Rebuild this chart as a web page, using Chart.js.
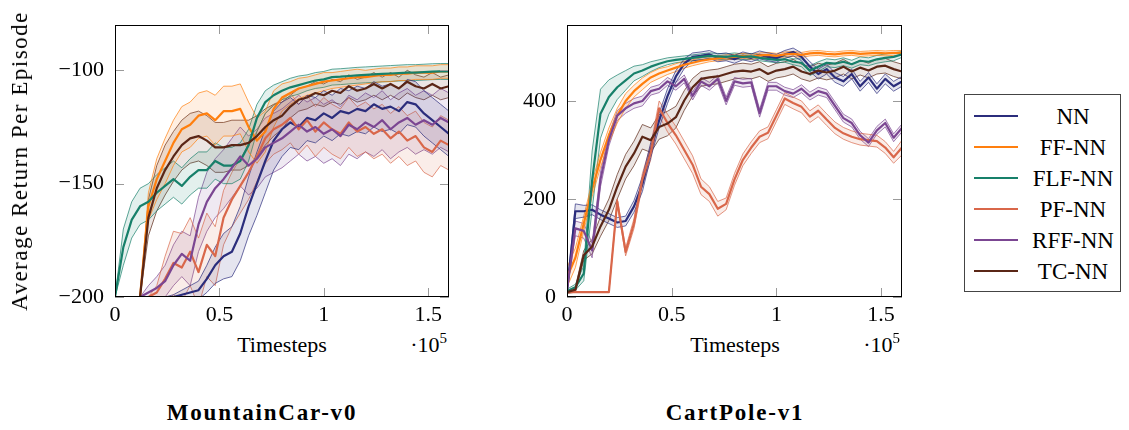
<!DOCTYPE html>
<html>
<head>
<meta charset="utf-8">
<script src="https://cdn.jsdelivr.net/npm/chart.js@4.4.1/dist/chart.umd.min.js"></script>
<style>
    body { margin: 0; background: #fff; width: 1129px; height: 430px; position: relative; overflow: hidden;
           font-family: "Liberation Serif", "Times New Roman", serif; color: #000; }
    canvas { position: absolute; top: 0; }
    .txt { position: absolute; white-space: nowrap; font-size: 22px; line-height: 22px; }
    .title { position: absolute; white-space: nowrap; font-size: 23px; line-height: 23px; font-weight: bold;
             letter-spacing: 1.8px; transform: translateX(-50%); }
    .sup { font-size: 15px; position: relative; top: -9px; }
    #legend { position: absolute; left: 964px; top: 94px; width: 157px; height: 198px; box-sizing: border-box;
              border: 1px solid #444; }
</style>
</head>
<body>
<canvas id="mcChart" width="470" height="330" style="left:0"></canvas>
<canvas id="cpChart" width="460" height="330" style="left:460px"></canvas>

<div class="txt" style="left:20px; top:161px; font-size:23px; letter-spacing:1.5px; transform:translate(-50%,-50%) rotate(-90deg)">Average Return Per Episode</div>
<div class="txt" style="left:282px; top:334px; transform:translateX(-50%)">Timesteps</div>
<div class="txt" style="right:682px; top:334px">·10<span class="sup">5</span></div>
<div class="txt" style="left:735px; top:334px; transform:translateX(-50%)">Timesteps</div>
<div class="txt" style="right:229px; top:334px">·10<span class="sup">5</span></div>
<div class="title" style="left:262px; top:401px">MountainCar-v0</div>
<div class="title" style="left:735px; top:401px">CartPole-v1</div>
<div id="legend"></div>

<script>
// ── Data ─────────────────────────────────────────────────────
const steps = [0, 4000, 8000, 12000, 16000, 20000, 24000, 28000, 32000, 36000,
    40000, 44000, 48000, 52000, 56000, 60000, 64000, 68000, 72000, 76000,
    80000, 84000, 88000, 92000, 96000, 100000, 104000, 108000, 112000, 116000,
    120000, 124000, 128000, 132000, 136000, 140000, 144000, 148000, 152000, 156000, 160000];

const seriesNames = ["NN", "FF-NN", "FLF-NN", "PF-NN", "RFF-NN", "TC-NN"];

const xTickValues = [0, 50000, 100000, 150000];
const mcTickValues = [-200, -150, -100];
const cpTickValues = [0, 200, 400];

// MountainCar-v0: mean return and half-width of the shaded band
const mcNN = [-200, -200, -200, -200, -200, -200, -200, -200, -199, -198,
    -197, -192, -186, -182, -180, -172, -160, -150, -140, -131,
    -126, -123, -125, -121, -122, -119, -121, -118, -119, -117,
    -118, -115, -117, -116, -118, -114, -115, -119, -122, -125, -128];
const mcNNsd = [0, 0, 0, 0, 0, 0, 0, 1, 2, 3,
    4, 6, 8, 10, 11, 12, 13, 14, 14, 13,
    12, 11, 10, 10, 10, 10, 10, 10, 10, 10,
    10, 10, 10, 10, 10, 10, 10, 10, 10, 10, 10];
const mcFF = [-200, -200, -200, -200, -160, -148, -140, -132, -126, -124,
    -120, -119, -122, -118, -118, -117, -125, -131, -127, -117,
    -112, -110, -108, -107, -106, -105, -104.5, -104, -103.5, -103,
    -103, -102.5, -102, -102, -101.5, -101.5, -101, -101, -101, -100.5, -100.5];
const mcFFsd = [0, 0, 0, 0, 6, 9, 10, 10, 10, 10,
    10, 10, 11, 11, 11, 11, 11, 10, 9, 8,
    6, 5, 4.5, 4, 4, 4, 3.5, 3.5, 3.5, 3.5,
    3, 3, 3, 3, 3, 3, 3, 3, 3, 3, 3];
const mcFLF = [-200, -178, -166, -160, -158, -154, -151, -148, -151, -147,
    -144, -144, -140, -142, -142, -140, -133, -121, -114, -111,
    -109, -107.5, -106.5, -105.5, -104.5, -104, -103, -102.8, -102.5, -102.2,
    -102, -101.8, -101.6, -101.4, -101.2, -101, -101, -100.8, -100.6, -100.5, -100.5];
const mcFLFsd = [0, 8, 8, 8, 8, 8, 8, 8, 8, 8,
    8, 8, 8, 8, 8, 8, 7, 6, 5, 4.5,
    4, 4, 4, 3.5, 3.5, 3.5, 3.5, 3.5, 3.5, 3.5,
    3.5, 3.5, 3.5, 3.5, 3.5, 3.5, 3.5, 3.5, 3.5, 3.5, 3.5];
const mcPF = [-200, -200, -200, -200, -200, -198, -192, -185, -187, -180,
    -189, -177, -182, -165, -157, -151, -145, -138, -130, -126,
    -124, -121, -126, -122, -127, -123, -126, -128, -123, -127,
    -125, -128, -126, -130, -127, -131, -129, -134, -136, -131, -133];
const mcPFsd = [0, 0, 0, 0, 0, 3, 10, 14, 15, 15,
    15, 14, 13, 12, 12, 12, 12, 11, 11, 11,
    11, 11, 11, 11, 11, 11, 11, 11, 11, 11,
    11, 11, 11, 11, 11, 11, 11, 11, 11, 11, 11];
const mcRFF = [-200, -200, -200, -200, -198, -196, -193, -186, -181, -184,
    -168, -158, -152, -148, -143, -138, -142, -139, -134, -132,
    -130, -127, -124, -127, -125, -128, -126, -129, -124, -126,
    -123, -125, -122, -126, -123, -121, -124, -122, -124, -121, -123];
const mcRFFsd = [0, 0, 0, 0, 3, 5, 7, 9, 10, 11,
    12, 13, 13, 13, 13, 13, 13, 13, 13, 13,
    13, 13, 13, 13, 13, 13, 13, 13, 13, 13,
    13, 13, 13, 13, 13, 13, 13, 13, 13, 13, 13];
const mcTC = [-200, -200, -200, -200, -165, -152, -144, -138, -133, -130,
    -129, -131, -134, -134, -133, -133, -132, -129, -125, -122,
    -120, -116, -113, -112, -110, -111, -109, -110, -107, -109,
    -108, -106, -108, -106, -108, -105, -107, -108, -106, -108, -107];
const mcTCsd = [0, 0, 0, 0, 8, 10, 11, 11, 11, 11,
    11, 11, 11, 11, 11, 11, 10, 9, 8, 7,
    6, 5, 5, 5, 5, 5, 5, 5, 5, 5,
    5, 5, 5, 5, 5, 5, 5, 5, 5, 5, 5];

// CartPole-v1
const cpNN = [12, 175, 175, 178, 168, 160, 152, 155, 185, 230,
    300, 360, 410, 450, 476, 490, 492, 495, 488, 490,
    485, 492, 488, 494, 490, 487, 495, 500, 490, 470,
    455, 465, 448, 440, 455, 430, 448, 425, 445, 430, 440];
const cpNNsd = [3, 15, 12, 10, 10, 10, 10, 10, 12, 15,
    15, 15, 15, 12, 10, 8, 8, 8, 8, 8,
    8, 8, 8, 8, 8, 8, 8, 8, 8, 10,
    10, 10, 10, 10, 10, 10, 10, 10, 10, 10, 10];
const cpFF = [40, 80, 150, 220, 280, 330, 370, 400, 420, 435,
    448, 456, 462, 468, 474, 478, 482, 485, 487, 489,
    490, 492, 490, 493, 494, 492, 495, 496, 494, 497,
    498, 496, 495, 497, 498, 496, 497, 498, 497, 498, 498];
const cpFFsd = [20, 20, 15, 15, 15, 15, 15, 15, 12, 12,
    10, 10, 8, 8, 7, 6, 6, 5, 5, 5,
    5, 5, 5, 5, 5, 5, 5, 5, 5, 5,
    5, 5, 5, 5, 5, 5, 5, 5, 5, 5, 5];
const cpFLF = [12, 20, 48, 238, 374, 408, 428, 442, 456, 462,
    470, 476, 481, 484, 486, 488, 490, 492, 491, 490,
    492, 490, 491, 488, 486, 484, 485, 480, 478, 462,
    470, 478, 476, 480, 475, 482, 480, 485, 488, 490, 495];
const cpFLFsd = [4, 6, 15, 60, 50, 35, 25, 20, 15, 12,
    10, 8, 7, 6, 6, 6, 6, 6, 6, 6,
    6, 6, 6, 6, 6, 6, 6, 6, 8, 10,
    10, 8, 8, 8, 8, 8, 8, 8, 8, 8, 6];
const cpPF = [10, 10, 10, 10, 10, 10, 195, 92, 150, 240,
    295, 385, 355, 330, 300, 270, 225, 210, 180, 190,
    240, 280, 305, 327, 335, 370, 405, 396, 388, 368,
    380, 362, 345, 334, 327, 322, 320, 318, 305, 285, 305];
const cpPFsd = [0, 0, 0, 0, 0, 0, 5, 8, 10, 12,
    15, 15, 18, 18, 18, 18, 16, 15, 15, 12,
    12, 12, 12, 12, 12, 12, 12, 12, 12, 12,
    12, 12, 12, 12, 12, 12, 12, 12, 12, 12, 15];
const cpRFF = [15, 140, 135, 95, 240, 320, 370, 385, 395, 400,
    420, 425, 440, 430, 445, 410, 440, 430, 445, 400,
    440, 436, 438, 375, 430, 430, 420, 415, 425, 410,
    420, 415, 390, 365, 355, 330, 315, 340, 355, 325, 345];
const cpRFFsd = [3, 15, 15, 15, 15, 12, 10, 10, 10, 10,
    8, 8, 8, 8, 8, 8, 8, 8, 8, 8,
    8, 8, 8, 8, 8, 8, 8, 8, 8, 8,
    8, 8, 8, 8, 8, 8, 8, 8, 8, 8, 8];
const cpTC = [10, 15, 85, 103, 144, 178, 225, 266, 293, 327,
    320, 347, 354, 367, 401, 428, 445, 448, 450, 455,
    460, 462, 460, 465, 455, 462, 465, 470, 460, 455,
    462, 458, 462, 470, 460, 468, 462, 470, 472, 465, 460];
const cpTCsd = [3, 5, 10, 15, 20, 22, 25, 25, 25, 25,
    25, 25, 25, 22, 20, 18, 15, 15, 15, 15,
    15, 15, 15, 15, 15, 15, 15, 15, 15, 15,
    15, 15, 15, 15, 15, 15, 15, 15, 15, 15, 15];

// ── Style ────────────────────────────────────────────────────
const seriesColors = ["#2b2d7c", "#ff7f0e", "#17806a", "#d9674a", "#7b4692", "#5a2616"];
const tickFont = { family: '"Liberation Serif", "Times New Roman", serif', size: 22 };

function rgba(hex, a) {
    const n = parseInt(hex.slice(1), 16);
    return `rgba(${n >> 16}, ${(n >> 8) & 255}, ${n & 255}, ${a})`;
}

function points(values, spread, sign) {
    return values.map((v, k) => ({ x: steps[k], y: v + sign * (spread ? spread[k] : 0) }));
}

function buildDatasets(means, spreads) {
    const sets = [];
    // mean lines first in order so they sit on top of the bands
    means.forEach((m, i) => {
        sets.push({
            data: points(m, null, 0), borderColor: seriesColors[i], borderWidth: 2.2,
            fill: false, order: 5 - i,
        });
    });
    means.forEach((m, i) => {
        const c = seriesColors[i];
        sets.push({ data: points(m, spreads[i], -1), borderColor: c, borderWidth: 0.7, fill: false, order: 20 + i });
        sets.push({
            data: points(m, spreads[i], 1), borderColor: c, borderWidth: 0.7,
            fill: "-1", backgroundColor: rgba(c, 0.12), order: 20 + i,
        });
    });
    return sets;
}

// pgfplots style: ticks inside the box on all four sides, black frame
const innerTicks = {
    id: "innerTicks",
    afterDatasetsDraw(chart) {
        const { ctx, chartArea: a, scales: { x, y } } = chart;
        const len = 9;
        ctx.save();
        ctx.strokeStyle = "#9a9a9a";
        ctx.lineWidth = 1;
        ctx.beginPath();
        x.ticks.forEach(t => {
            const px = Math.round(x.getPixelForValue(t.value)) + 0.5;
            ctx.moveTo(px, a.bottom); ctx.lineTo(px, a.bottom - len);
            ctx.moveTo(px, a.top); ctx.lineTo(px, a.top + len);
        });
        y.ticks.forEach(t => {
            const py = Math.round(y.getPixelForValue(t.value)) + 0.5;
            ctx.moveTo(a.left, py); ctx.lineTo(a.left + len, py);
            ctx.moveTo(a.right, py); ctx.lineTo(a.right - len, py);
        });
        ctx.stroke();
        ctx.strokeStyle = "#000";
        ctx.strokeRect(Math.round(a.left) + 0.5, Math.round(a.top) + 0.5,
            Math.round(a.width) - 1, Math.round(a.height) - 1);
        ctx.restore();
    },
};

function makeChart(id, means, spreads, yMin, yMax, yTicks, axisWidth, padRight) {
    const ctx = document.getElementById(id).getContext("2d");
    return new Chart(ctx, {
        type: "line",
        data: { datasets: buildDatasets(means, spreads) },
        options: {
            responsive: false,
            animation: false,
            events: [],
            layout: { padding: { top: 25, right: padRight, left: 0, bottom: 0 } },
            elements: {
                point: { radius: 0 },
                line: { tension: 0, borderJoinStyle: "round", borderCapStyle: "round" },
            },
            plugins: { legend: { display: false }, tooltip: { enabled: false } },
            scales: {
                x: {
                    type: "linear", min: 0, max: 160000,
                    grid: { display: false, drawTicks: false },
                    border: { display: false },
                    ticks: { font: tickFont, color: "#000", padding: 5, maxRotation: 0,
                             callback: v => String(v / 1e5) },
                    afterBuildTicks: s => { s.ticks = xTickValues.map(v => ({ value: v })); },
                    afterFit: s => { s.height = 33; },
                },
                y: {
                    type: "linear", min: yMin, max: yMax,
                    grid: { display: false, drawTicks: false },
                    border: { display: false },
                    ticks: { font: tickFont, color: "#000", padding: 11,
                             callback: v => (v < 0 ? "\u2212" + Math.abs(v) : String(v)) },
                    afterBuildTicks: s => { s.ticks = yTicks.map(v => ({ value: v })); },
                    afterFit: s => { s.width = axisWidth; },
                },
            },
        },
        plugins: [innerTicks],
    });
}

makeChart("mcChart",
    [mcNN, mcFF, mcFLF, mcPF, mcRFF, mcTC],
    [mcNNsd, mcFFsd, mcFLFsd, mcPFsd, mcRFFsd, mcTCsd],
    -200, -80, mcTickValues, 115, 21);

makeChart("cpChart",
    [cpNN, cpFF, cpFLF, cpPF, cpRFF, cpTC],
    [cpNNsd, cpFFsd, cpFLFsd, cpPFsd, cpRFFsd, cpTCsd],
    0, 555, cpTickValues, 107, 18);

// ── Legend ───────────────────────────────────────────────────
const legend = document.getElementById("legend");
seriesNames.forEach((name, i) => {
    const cy = 21 + i * 30.9;
    const line = document.createElement("div");
    line.style.cssText = `position:absolute; left:9px; top:${cy - 1}px; width:44px; height:2.2px; background:${seriesColors[i]}`;
    const label = document.createElement("div");
    label.className = "txt";
    label.style.cssText = `left:108px; top:${cy - 11}px; transform:translateX(-50%); font-size:23px; line-height:23px`;
    label.textContent = name;
    legend.appendChild(line);
    legend.appendChild(label);
});
</script>
</body>
</html>
